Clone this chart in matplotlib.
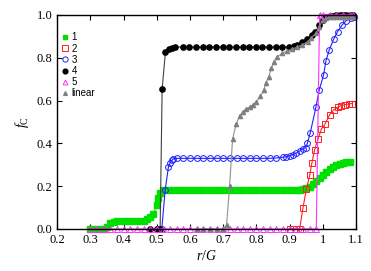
import numpy as np
import matplotlib.pyplot as plt

plt.rcParams['font.family'] = 'Liberation Serif'
plt.rcParams['mathtext.fontset'] = 'custom'
plt.rcParams['mathtext.it'] = 'Liberation Serif:italic'
plt.rcParams['mathtext.rm'] = 'Liberation Serif'

# series 1 (green)
x1 = [0.30, 0.32, 0.34, 0.35, 0.36, 0.37, 0.38, 0.40, 0.42, 0.44, 0.46, 0.47, 0.48, 0.49,
      0.50, 0.505, 0.51, 0.52, 0.54, 0.56, 0.58, 0.60, 0.62, 0.64, 0.66, 0.68, 0.70, 0.72,
      0.74, 0.76, 0.78, 0.80, 0.82, 0.84, 0.86, 0.88, 0.90, 0.92, 0.93, 0.94, 0.95, 0.96,
      0.97, 0.98, 0.99, 1.00, 1.01, 1.02, 1.03, 1.04, 1.05, 1.06, 1.07, 1.08]
y1 = [0.0, 0.0, 0.0, 0.01, 0.028, 0.035, 0.036, 0.036, 0.036, 0.036, 0.038, 0.045, 0.055, 0.07,
      0.11, 0.145, 0.17, 0.18, 0.18, 0.18, 0.18, 0.18, 0.18, 0.18, 0.18, 0.18, 0.18, 0.18,
      0.18, 0.18, 0.18, 0.18, 0.18, 0.18, 0.18, 0.18, 0.18, 0.181, 0.183, 0.186, 0.19, 0.198,
      0.208, 0.222, 0.238, 0.254, 0.268, 0.28, 0.29, 0.297, 0.303, 0.307, 0.311, 0.314]

# series 2 (red)
x2 = [0.90, 0.92, 0.93, 0.94, 0.95, 0.96, 0.967, 0.975, 0.985, 0.995, 1.006, 1.02, 1.032,
      1.044, 1.054, 1.065, 1.077, 1.087]
y2 = [0.0, 0.0, 0.0, 0.10, 0.185, 0.25, 0.31, 0.37, 0.42, 0.466, 0.49, 0.533, 0.556,
      0.568, 0.576, 0.58, 0.584, 0.586]

# series 3 (blue)
x3 = [0.50, 0.515, 0.525, 0.535, 0.54, 0.545, 0.55, 0.56, 0.58, 0.60, 0.62, 0.64, 0.66,
      0.68, 0.70, 0.72, 0.74, 0.76, 0.78, 0.80, 0.82, 0.84, 0.86, 0.88, 0.89, 0.90, 0.91,
      0.92, 0.93, 0.94, 0.948, 0.953, 0.962, 0.979, 0.989, 1.002, 1.009, 1.019, 1.032,
      1.044, 1.058, 1.07, 1.083, 1.093]
y3 = [0.0, 0.0, 0.18, 0.29, 0.31, 0.32, 0.328, 0.33, 0.33, 0.33, 0.33, 0.33, 0.33,
      0.33, 0.33, 0.33, 0.33, 0.33, 0.33, 0.33, 0.33, 0.33, 0.332, 0.335, 0.338, 0.342, 0.347,
      0.355, 0.365, 0.375, 0.38, 0.40, 0.45, 0.57, 0.65, 0.72, 0.785, 0.836, 0.886,
      0.922, 0.953, 0.973, 0.985, 0.99]

# series 4 (black)
x4 = [0.48, 0.50, 0.51, 0.516, 0.526, 0.536, 0.546, 0.556, 0.578, 0.598, 0.618, 0.638,
      0.658, 0.678, 0.698, 0.718, 0.738, 0.758, 0.778, 0.798, 0.818, 0.838, 0.858, 0.878,
      0.898, 0.912, 0.923, 0.938, 0.951, 0.966, 0.977, 0.989, 0.999, 1.009, 1.02, 1.03,
      1.04, 1.05, 1.06, 1.07, 1.08, 1.09]
y4 = [0.0, 0.0, 0.0, 0.653, 0.828, 0.841, 0.847, 0.85, 0.85, 0.85, 0.85, 0.85,
      0.85, 0.85, 0.85, 0.85, 0.85, 0.85, 0.85, 0.85, 0.85, 0.85, 0.85, 0.85,
      0.85, 0.853, 0.86, 0.875, 0.886, 0.907, 0.92, 0.953, 0.977, 0.99, 0.995, 0.997,
      0.998, 0.999, 1.0, 1.0, 1.0, 1.0]

# series 5 (magenta)
x5 = [0.30, 0.32, 0.34, 0.36, 0.38, 0.40, 0.42, 0.44, 0.46, 0.48, 0.50, 0.52, 0.54, 0.56,
      0.58, 0.60, 0.62, 0.64, 0.66, 0.68, 0.70, 0.72, 0.74, 0.76, 0.78, 0.80, 0.82, 0.84,
      0.86, 0.88, 0.90, 0.92, 0.94, 0.96, 0.98, 0.99, 1.00, 1.02, 1.04, 1.06, 1.08, 1.09]
y5 = [0.0] * 35 + [1.0] * 7

# linear (gray)
x6 = [0.62, 0.64, 0.66, 0.68, 0.70, 0.71, 0.719, 0.728, 0.739, 0.749, 0.76, 0.769,
      0.779, 0.789, 0.80, 0.812, 0.822, 0.829, 0.837, 0.845, 0.852, 0.863, 0.878, 0.893,
      0.908, 0.923, 0.938, 0.954, 0.964, 0.979, 0.989, 0.999, 1.01, 1.02, 1.03, 1.04,
      1.05, 1.06, 1.07, 1.08, 1.09]
y6 = [0.0, 0.0, 0.0, 0.0, 0.0, 0.02, 0.2, 0.42, 0.49, 0.53, 0.548, 0.56,
      0.57, 0.58, 0.595, 0.62, 0.65, 0.684, 0.712, 0.751, 0.782, 0.805, 0.82, 0.832,
      0.841, 0.849, 0.86, 0.875, 0.891, 0.914, 0.945, 0.977, 0.985, 0.988, 0.99, 0.99,
      0.99, 0.99, 0.99, 0.99, 0.99]

labels = ['1', '2', '3', '4', '5', 'linear']
xticks = [0.2, 0.3, 0.4, 0.5, 0.6, 0.7, 0.8, 0.9, 1.0, 1.1]
xticklabels = ['0.2', '0.3', '0.4', '0.5', '0.6', '0.7', '0.8', '0.9', '1', '1.1']
yticks = [0.0, 0.2, 0.4, 0.6, 0.8, 1.0]

fig = plt.figure(figsize=(3.71, 2.71), dpi=100)
ax = fig.add_axes([0.154, 0.155, 0.806, 0.79])

kw = dict(lw=0.8, clip_on=False)
ax.plot(x1, y1, color='#00e000', marker='s', ms=3.8, mec='#00e000', label=labels[0], **kw)
ax.plot(x2, y2, color='#ff2020', marker='s', ms=4.2, mfc='none', mew=0.7, label=labels[1], **kw)
ax.plot(x3, y3, color='#2020ff', marker='o', ms=4.2, mfc='none', mew=0.7, label=labels[2], **kw)
ax.plot(x4, y4, color='#404040', marker='o', ms=3.8, mfc='black', mec='black', label=labels[3], **kw)
ax.plot(x5, y5, color='#ff30ff', marker='^', ms=3.8, mfc='none', mew=0.7, label=labels[4], **kw)
ax.plot(x6, y6, color='#909090', marker='^', ms=3, mfc='#808080', mec='#808080', label=labels[5], **kw)

ax.set_xlim(0.2, 1.1)
ax.set_ylim(0, 1.0)
ax.set_xticks(xticks)
ax.set_xticklabels(xticklabels)
ax.set_yticks(yticks)
ax.set_yticklabels(['%.1f' % v for v in yticks])
ax.tick_params(direction='in', top=True, right=True, labelsize=9, length=3.5, width=0.8)
for s in ax.spines.values():
    s.set_linewidth(1.0)

ax.set_xlabel('$r/G$', fontsize=10, labelpad=2)
ax.set_ylabel('$f_{\\mathrm{C}}$', fontsize=10, labelpad=4)

leg = ax.legend(loc='upper left', bbox_to_anchor=(-0.005, 0.95), frameon=False,
                prop={'family': 'Liberation Sans', 'size': 7}, handlelength=0.5,
                handletextpad=0.45, labelspacing=0.12, borderaxespad=0.3, markerscale=0.9)
for h in leg.legend_handles:
    h.set_linestyle('none')

fig.savefig('out.png', dpi=100)
